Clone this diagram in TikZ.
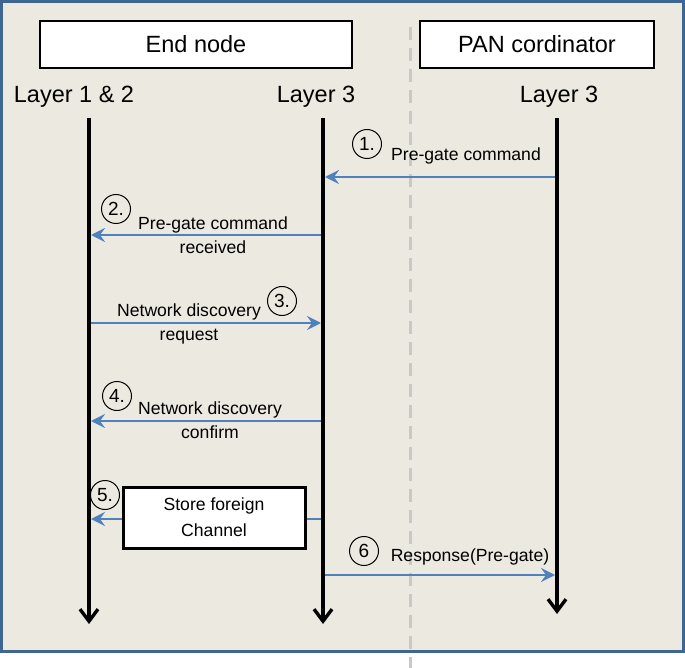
\documentclass[tikz,border=0pt]{standalone}
\usepackage{fontspec}
\setmainfont{Liberation Sans}
\usetikzlibrary{arrows.meta}
\definecolor{framebg}{RGB}{236,233,225}
\definecolor{frameblue}{RGB}{63,101,145}
\definecolor{msgblue}{RGB}{79,129,189}
\definecolor{dashgray}{RGB}{200,200,200}
\begin{document}
\begin{tikzpicture}[x=1pt,y=-1pt,
  titlebox/.style={draw=black, line width=1.8pt, fill=white, inner sep=0pt,
    font=\fontsize{23.5}{28}\selectfont},
  layerlbl/.style={inner sep=0pt, font=\fontsize{23.5}{28}\selectfont},
  life/.style={line width=3.4pt, -{Straight Barb[length=12pt,width=18pt]}},
  msg/.style={msgblue, line width=1.8pt, -{Stealth[length=14pt,width=14pt,inset=5pt]}},
  msglbl/.style={inner sep=0pt, align=center, font=\fontsize{17.6}{24}\selectfont},
  num/.style={draw=black, line width=1pt, circle, minimum size=29pt, inner sep=0pt,
    font=\fontsize{19}{21}\selectfont},
  storebox/.style={draw=black, line width=3pt, fill=white, inner sep=0pt, align=center,
    minimum width=182pt, minimum height=61pt, font=\fontsize{17.6}{26}\selectfont}
]
\useasboundingbox (0,0) rectangle (685,668);
\fill[white] (0,0) rectangle (685,668);
\draw[frameblue, line width=3pt, fill=framebg] (1.5,1.5) rectangle (683.5,651.5);

% dashed separator
\coordinate (dtop) at (410,27);
\coordinate (dbot) at (410,668);
\draw[dashgray, line width=3pt, dash pattern=on 13pt off 8pt] (dtop) -- (dbot);

% title boxes
\node[titlebox, minimum width=312pt, minimum height=47pt] (endnode) at (196,44.5) {End node};
\node[titlebox, minimum width=234pt, minimum height=47pt] (pan) at (537,44.5) {PAN cordinator};

% layer labels
\node[layerlbl] (lay12) at (74,97) {Layer 1 \& 2};
\node[layerlbl] (lay3a) at (316,97) {Layer 3};
\node[layerlbl] (lay3b) at (559,97) {Layer 3};

% lifelines
\coordinate (l1top) at (89,118);  \coordinate (l1bot) at (89,624);
\coordinate (l2top) at (323,118); \coordinate (l2bot) at (323,624);
\coordinate (l3top) at (557,118); \coordinate (l3bot) at (557,614);
\draw[life] (l1top) -- (l1bot);
\draw[life] (l2top) -- (l2bot);
\draw[life] (l3top) -- (l3bot);

% message end points
\coordinate (m1a) at (555,177); \coordinate (m1b) at (325,177);
\coordinate (m2a) at (321,235); \coordinate (m2b) at (91,235);
\coordinate (m3a) at (91,323);  \coordinate (m3b) at (321,323);
\coordinate (m4a) at (321,421); \coordinate (m4b) at (91,421);
\coordinate (m5a) at (321,519); \coordinate (m5b) at (91,519);
\coordinate (m6a) at (325,575); \coordinate (m6b) at (555,575);

\draw[msg] (m1a) -- (m1b);
\draw[msg] (m2a) -- (m2b);
\draw[msg] (m3a) -- (m3b);
\draw[msg] (m4a) -- (m4b);
\draw[msg] (m5a) -- (m5b);
\draw[msg] (m6a) -- (m6b);

% numbers
\node[num] (c1) at (367,144) {1.};
\node[num] (c2) at (116,209) {2.};
\node[num] (c3) at (282,301) {3.};
\node[num] (c4) at (117,396) {4.};
\node[num] (c5) at (105,495) {5.};
\node[num] (c6) at (364,551) {6};

% labels
\node[msglbl] (t1) at (466,156) {Pre-gate command};
\node[msglbl] (t2) at (213,235) {Pre-gate command\\received};
\node[msglbl] (t3) at (189,324) {Network discovery\\request};
\node[msglbl] (t4) at (210,420) {Network discovery\\confirm};
\node[storebox] (store) at (214,517.5) {Store foreign\\Channel};
\node[msglbl] (t6) at (470,557) {Response(Pre-gate)};
\end{tikzpicture}
\end{document}
